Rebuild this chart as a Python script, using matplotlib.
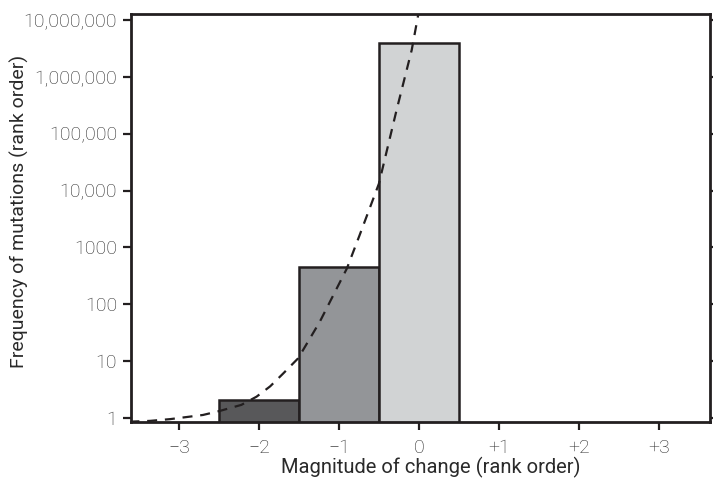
import matplotlib
matplotlib.use("Agg")
import matplotlib.pyplot as plt
from matplotlib.ticker import FixedLocator, NullLocator

plt.rcParams['font.family'] = ['Roboto', 'DejaVu Sans']
plt.rcParams['font.weight'] = 'light'

# Bars
bar_x = [-2, -1, 0]
bar_heights = [2.1, 450, 3.9e6]
bar_colors = ['#58585a', '#939598', '#d1d3d4']

# Dashed curve
curve_x = [-3.62, -3.36, -3.11, -2.70, -2.49, -2.22, -2.03, -1.86, -1.70, -1.51,
           -1.24, -0.90, -0.74, -0.50, -0.28, -0.09, -0.01, 0.01]
curve_y = [0.86, 0.89, 0.955, 1.13, 1.33, 1.70, 2.37, 3.6, 6.0, 11.2,
           49, 427, 1660, 13200, 257000, 2950000, 12000000, 14000000]

y_ticks = [1, 10, 100, 1000, 1e4, 1e5, 1e6, 1e7]
y_labels = ['1', '10', '100', '1000', '10,000', '100,000', '1,000,000', '10,000,000']
x_ticks = [-3, -2, -1, 0, 1, 2, 3]
x_labels = ['\u22123', '\u22122', '\u22121', '0', '+1', '+2', '+3']

ink = '#231f20'
txt = '#2a2a2a'

fig = plt.figure(figsize=(7.13, 4.80), dpi=100)
ax = fig.add_axes([131/713, 1 - 422/480, (710-131)/713, (422-14)/480])

ax.bar(bar_x, bar_heights, width=1.0, bottom=0.01, color=bar_colors,
       edgecolor=ink, linewidth=1.8, zorder=2)
ax.plot(curve_x, curve_y, linestyle=(0, (4.5, 3.5)), color=ink, linewidth=1.6, zorder=3)

ax.set_yscale('log')
ax.set_ylim(0.85, 1.27e7)
ax.set_xlim(-3.6, 3.64)

ax.yaxis.set_major_locator(FixedLocator(y_ticks))
ax.yaxis.set_minor_locator(NullLocator())
ax.set_yticklabels(y_labels)
ax.set_xticks(x_ticks)
ax.set_xticklabels(x_labels)

for s in ax.spines.values():
    s.set_color(ink)
    s.set_linewidth(2.0)

ax.tick_params(axis='y', which='major', direction='out', length=6, width=1.6,
               color=ink, labelsize=14, labelcolor=txt, pad=4, right=True)
ax.tick_params(axis='x', which='major', direction='out', length=6, width=1.6,
               color=ink, labelsize=14, labelcolor=txt, pad=6)

ax.set_xlabel('Magnitude of change (rank order)', fontsize=14.5, color=txt, labelpad=0.5)
ax.set_ylabel('Frequency of mutations (rank order)', fontsize=14, color=txt, labelpad=-4)
ax.xaxis.label.set_x(0.518)
ax.yaxis.label.set_y(0.515)

fig.savefig('out.png', dpi=100)
